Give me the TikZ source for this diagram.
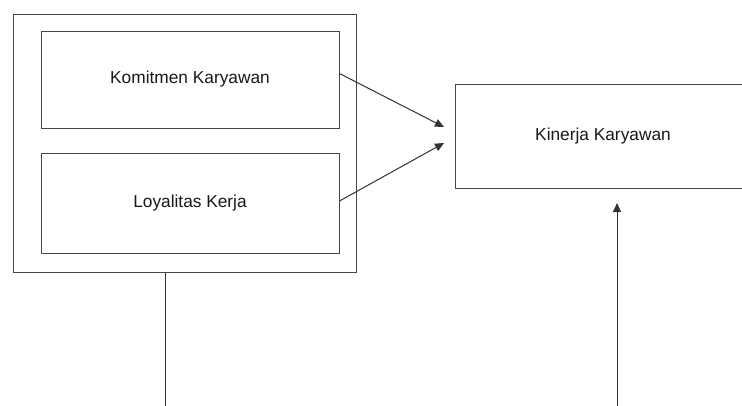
\documentclass[tikz,border=0pt]{standalone}
\usepackage{fontspec}
\setmainfont{Liberation Sans}
\usetikzlibrary{arrows.meta}
\begin{document}
\begin{tikzpicture}[x=1pt,y=-1pt,
  box/.style={draw=black!72, line width=1pt, rectangle, inner sep=0pt,
    font=\fontsize{17.3}{20}\selectfont, text=black!90},
  conn/.style={draw=black!80, line width=1pt},
  arr/.style={conn, -{Triangle[length=9pt,width=8pt]}}]
\clip (0,0) rectangle (742,405);
\fill[white] (0,0) rectangle (742,405);
\node[box, minimum width=343pt, minimum height=258pt] (outer) at (184.5,143) {};
\node[box, minimum width=298pt, minimum height=97pt] (k1) at (190,79.5) {Komitmen Karyawan};
\node[box, minimum width=298pt, minimum height=100pt] (k2) at (190,203) {Loyalitas Kerja};
\node[box, minimum width=296pt, minimum height=104pt] (kin) at (603,136) {Kinerja Karyawan};
\coordinate (t1) at (444,127);
\coordinate (t2) at (444,143);
\coordinate (b1) at (165,410);
\coordinate (b2) at (617,410);
\coordinate (t3) at (617,203);
\draw[arr] ([yshift=6pt]k1.east) -- (t1);
\draw[arr] ([yshift=2pt]k2.east) -- (t2);
\draw[conn] (outer.south -| b1) -- (b1);
\draw[arr] (b2) -- (t3);
\end{tikzpicture}
\end{document}
